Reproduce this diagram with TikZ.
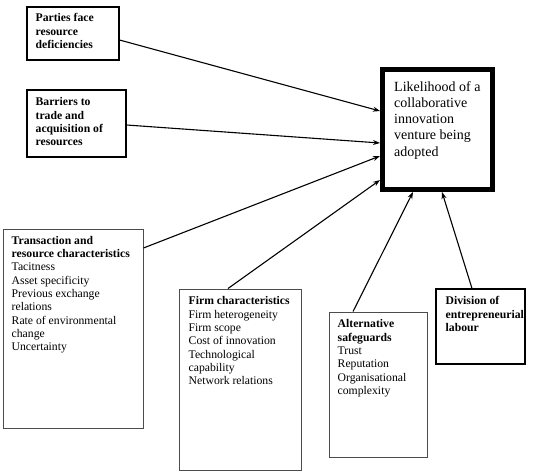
\documentclass[tikz,border=0pt]{standalone}
\usepackage{fontspec}
\setmainfont{Liberation Serif}
\usetikzlibrary{arrows.meta,calc}
\tikzset{
  cbox/.style={draw=black, line width=1.1pt, inner sep=0pt, fill=white},
  gbox/.style={draw=black!70, line width=1pt, inner sep=0pt, fill=white},
  mainbox/.style={draw=black, line width=5pt, inner sep=0pt, fill=white},
  txt/.style={anchor=north west, inner sep=0pt, align=left, font=\fontsize{11.7}{13.3}\selectfont},
  bigtxt/.style={anchor=north west, inner sep=0pt, align=left, font=\fontsize{14}{16.3}\selectfont},
  conn/.style={-{Stealth[length=7pt,width=5pt]}, line width=1.1pt},
}
\begin{document}
\begin{tikzpicture}[x=1pt,y=-1pt]
\useasboundingbox (0,0) rectangle (536,472);

% boxes
\node[cbox, minimum width=92pt, minimum height=53pt] (b1) at (73,33.5) {};
\node[cbox, minimum width=99pt, minimum height=67pt] (b2) at (76.5,123.5) {};
\node[gbox, minimum width=140pt, minimum height=199pt] (tr) at (73,328.5) {};
\node[gbox, minimum width=122pt, minimum height=181pt] (fi) at (240,379.5) {};
\node[gbox, minimum width=98pt, minimum height=145pt] (al) at (378,384.5) {};
\node[cbox, minimum width=89pt, minimum height=75pt] (dv) at (480.5,326.5) {};
\node[mainbox, minimum width=110pt, minimum height=120pt] (m) at (437.5,129.5) {};

% texts
\node[txt] (b1t) at ($(b1.north west)+(9,7)$) {\bfseries Parties face\\\bfseries resource\\\bfseries deficiencies};
\node[txt] (b2t) at ($(b2.north west)+(9,8)$) {\bfseries Barriers to\\\bfseries trade and\\\bfseries acquisition of\\\bfseries resources};
\node[txt] (trt) at ($(tr.north west)+(9,7.5)$) {\textbf{Transaction and}\\\textbf{resource characteristics}\\Tacitness\\Asset specificity\\Previous exchange\\relations\\Rate of environmental\\change\\Uncertainty};
\node[txt] (fit) at ($(fi.north west)+(10,8)$) {\textbf{Firm characteristics}\\Firm heterogeneity\\Firm scope\\Cost of innovation\\Technological\\capability\\Network relations};
\node[txt] (alt) at ($(al.north west)+(9,8)$) {\textbf{Alternative}\\\textbf{safeguards}\\Trust\\Reputation\\Organisational\\complexity};
\node[txt] (dvt) at ($(dv.north west)+(10,8)$) {\bfseries Division of\\\bfseries entrepreneurial\\\bfseries labour};
\node[bigtxt] (mt) at ($(m.north west)+(14,14)$) {Likelihood of a\\collaborative\\innovation\\venture being\\adopted};

% connectors
\draw[conn] (b1.east |- 0,40) -- (m.west |- 0,111);
\draw[conn] (b2.east |- 0,125) -- (m.west |- 0,143);
\draw[conn] (tr.east |- 0,248) -- (m.west |- 0,156);
\draw[conn] (fi.north -| 228,0) -- (m.west |- 0,180);
\draw[conn] (al.north -| 353,0) -- (m.south -| 413,0);
\draw[conn] (dv.north -| 472,0) -- (m.south -| 442,0);
\end{tikzpicture}
\end{document}
